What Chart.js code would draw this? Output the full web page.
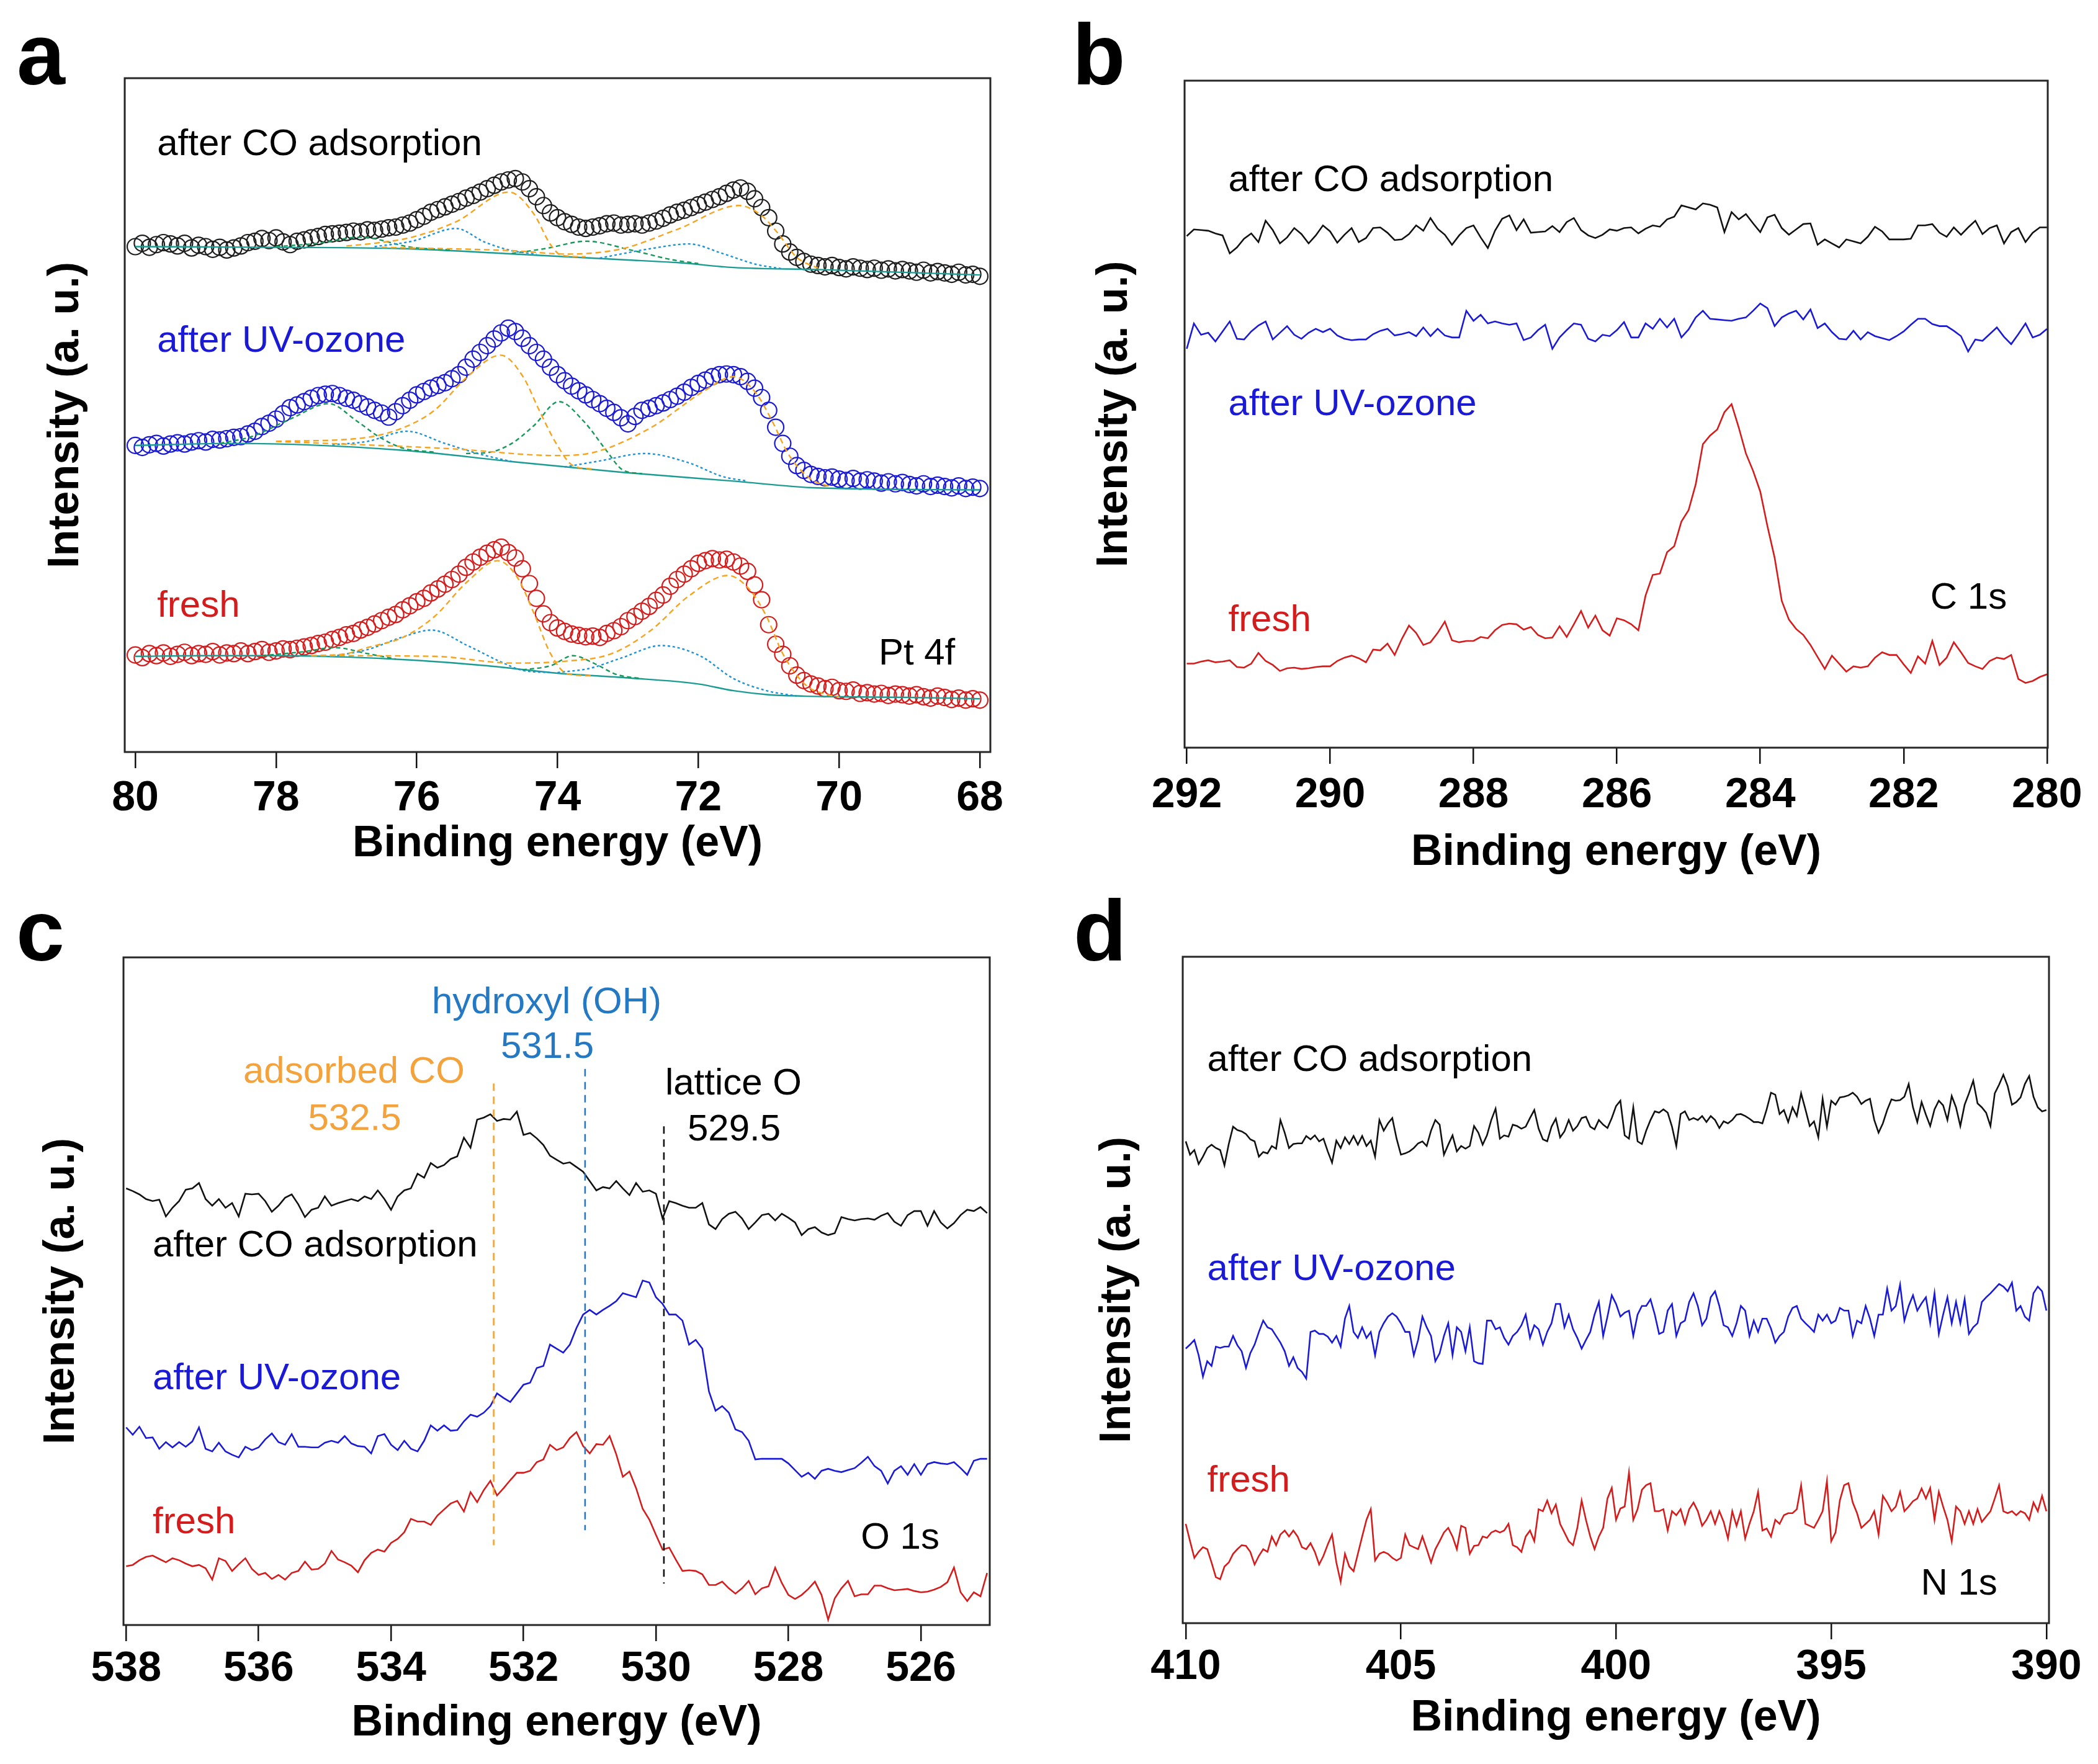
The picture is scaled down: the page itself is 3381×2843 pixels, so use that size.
<!DOCTYPE html>
<html>
<head>
<meta charset="utf-8">
<title>XPS spectra</title>
<script src="https://cdn.jsdelivr.net/npm/chart.js@4.4.0/dist/chart.umd.min.js"></script>
<style>
  body { margin: 0; background: #fff; }
  #wrap { position: relative; width: 3381px; height: 2843px; background: #fff; overflow: hidden; }
  canvas { position: absolute; }
  .tag { position: absolute; font: bold 140px "Liberation Sans", Arial, sans-serif; line-height: 1; color: #000; }
</style>
</head>
<body>
<div id="wrap">
  <canvas id="pa"></canvas>
  <canvas id="pb"></canvas>
  <canvas id="pc"></canvas>
  <canvas id="pd"></canvas>
  <div class="tag" style="left:27px;top:18px">a</div>
  <div class="tag" style="left:1728px;top:18px">b</div>
  <div class="tag" style="left:26px;top:1430px">c</div>
  <div class="tag" style="left:1730px;top:1430px">d</div>
</div>
<script>
// ---- panel a : Pt 4f (open circles + fitted components) ----
const ptEnergy = [
  80,79.9,79.8,79.7,79.6,79.5,79.4,79.3,79.2,79.1,
  79,78.9,78.8,78.7,78.6,78.5,78.4,78.3,78.2,78.1,
  78,77.9,77.8,77.7,77.6,77.5,77.4,77.3,77.2,77.1,
  77,76.9,76.8,76.7,76.6,76.5,76.4,76.3,76.2,76.1,
  76,75.9,75.8,75.7,75.6,75.5,75.4,75.3,75.2,75.1,
  75,74.9,74.8,74.7,74.6,74.5,74.4,74.3,74.2,74.1,
  74,73.9,73.8,73.7,73.6,73.5,73.4,73.3,73.2,73.1,
  73,72.9,72.8,72.7,72.6,72.5,72.4,72.3,72.2,72.1,
  72,71.9,71.8,71.7,71.6,71.5,71.4,71.3,71.2,71.1,
  71,70.9,70.8,70.7,70.6,70.5,70.4,70.3,70.2,70.1,
  70,69.9,69.8,69.7,69.6,69.5,69.4,69.3,69.2,69.1,
  69,68.9,68.8,68.7,68.6,68.5,68.4,68.3,68.2,68.1,
  68
];
const ptCO = [
  75.0,75.5,74.9,75.3,75.6,75.4,75.1,75.5,74.8,75.2,
  75.0,74.6,74.9,74.5,74.8,75.1,75.6,75.8,76.2,75.9,
  76.3,75.7,75.3,75.8,76.0,76.3,76.5,76.8,76.9,77.0,
  77.1,77.3,77.2,77.5,77.4,77.6,77.8,77.9,78.2,78.5,
  79.0,79.5,80.1,80.5,80.9,81.3,81.7,82.2,82.6,83.1,
  83.6,84.1,84.6,84.9,85.1,84.6,83.6,82.4,81.1,80.0,
  79.3,78.7,78.3,77.9,77.7,77.9,78.1,78.4,78.5,78.2,
  78.3,78.4,78.2,78.5,78.8,79.2,79.7,80.1,80.4,80.8,
  81.2,81.6,82.0,82.4,82.9,83.4,83.7,83.2,82.1,80.8,
  79.3,77.3,75.4,74.2,73.4,72.8,72.4,72.2,72.0,72.2,
  71.9,71.7,72.0,71.8,71.6,71.8,71.5,71.7,71.4,71.6,
  71.4,71.2,71.5,71.1,71.3,71.1,70.9,71.2,70.8,70.9,
  70.6
];
const ptUV = [
  45.5,45.2,45.6,45.8,45.4,45.7,45.9,45.7,46.0,46.2,
  46.0,46.4,46.3,46.5,46.7,46.8,47.2,47.6,48.3,48.8,
  49.4,50.2,51.1,51.5,52.0,52.5,52.9,53.1,53.2,52.9,
  52.5,52.2,51.7,51.2,50.7,50.3,49.7,50.5,51.4,52.2,
  53.0,53.5,54.0,54.4,54.8,55.4,56.0,57.1,58.3,59.3,
  60.3,61.3,62.2,62.9,62.4,61.4,60.3,59.3,58.3,57.1,
  56.0,55.1,54.3,53.6,53.0,52.3,51.7,51.0,50.4,49.6,
  48.7,49.8,50.7,51.0,51.4,51.8,52.3,52.8,53.4,54.1,
  54.7,55.2,55.7,56.0,56.1,56.0,55.7,55.0,54.0,52.6,
  50.7,48.2,45.8,43.9,42.5,41.8,41.2,40.9,40.7,40.8,
  40.5,40.3,40.6,40.2,40.4,40.2,39.9,40.1,39.8,40.0,
  39.7,39.5,39.8,39.4,39.6,39.4,39.2,39.5,39.1,39.3,
  39.1
];
const ptFresh = [
  14.4,14.0,14.6,14.3,14.7,14.2,14.5,14.8,14.3,14.6,
  14.5,14.9,14.4,14.7,14.6,15.0,14.6,14.9,15.2,14.8,
  15.0,15.3,15.2,15.4,15.6,15.8,16.1,16.3,16.7,17.0,
  17.4,17.6,18.1,18.5,19.0,19.5,20.0,20.4,21.1,21.7,
  22.3,22.8,23.6,24.2,24.9,25.6,26.4,27.4,28.2,28.9,
  29.5,30.0,30.4,29.6,28.8,27.2,25.0,22.8,20.5,19.2,
  18.4,17.9,17.5,17.3,17.1,17.2,17.0,17.6,18.0,18.6,
  19.5,20.1,20.9,21.6,22.5,23.3,24.6,25.6,26.4,27.2,
  28.0,28.4,28.7,28.5,28.6,28.2,27.6,26.8,24.8,22.6,
  18.9,16.0,14.5,12.8,11.4,10.6,10.1,9.8,9.4,9.6,
  9.1,9.0,9.2,8.7,8.8,8.6,8.7,8.4,8.6,8.5,
  8.3,8.5,8.2,8.0,8.3,8.1,7.8,8.0,7.7,7.9,
  7.7
];
// fitted components, [energy, intensity]
const coBase = [[80,75.0],[78,74.9],[76.2,74.7],[74.6,73.9],[73.05,73.05],[72.26,72.6],[71.5,71.9],[70.3,71.6],[68,70.8]];
const coOr1 = [[77.0,75.1],[76.6,75.5],[76.07,76.4],[75.44,78.7],[74.69,83.1],[74.34,79.9],[74.1,75.3],[73.94,73.7],[73.6,73.5]];
const coOr2 = [[76.5,74.9],[74.65,74.4],[73.86,73.9],[73.08,74.7],[72.29,77.6],[71.42,81.1],[71.1,79.6],[70.87,77.0],[70.6,73.4],[70.3,71.8]];
const coAz1 = [[76.6,75.0],[76.07,75.8],[75.44,77.7],[75.04,75.7],[74.65,74.4],[74.3,73.9]];
const coAz2 = [[73.4,73.3],[72.68,74.7],[72.13,75.4],[71.66,74.0],[71.19,72.4],[70.8,71.7]];
const coGr1 = [[74.65,74.0],[74.18,74.7],[73.59,75.8],[72.92,74.4],[72.37,73.05],[72.0,72.5]];
const coGr2 = [[78.0,75.0],[77.4,75.5],[76.8,76.4],[76.07,74.9],[75.5,74.5]];

const uvBase = [[80,45.5],[78.58,45.8],[76.22,44.8],[74.65,43.1],[73.08,41.5],[71.5,40.2],[70.32,39.2],[68,38.9]];
const uvOr1 = [[78.0,46.1],[76.77,46.6],[76.2,48.1],[75.75,50.7],[75.28,55.7],[74.81,58.9],[74.49,55.7],[74.26,50.7],[74.02,45.8],[73.78,42.5],[73.5,42.0]];
const uvOr2 = [[78.0,46.1],[75.5,45.0],[74.02,44.0],[73.47,44.5],[72.68,48.1],[71.9,53.7],[71.5,55.7],[71.19,53.4],[70.95,49.1],[70.72,44.2],[70.4,40.5],[70.1,39.3]];
const uvAz1 = [[77.2,45.6],[76.7,46.1],[76.14,47.6],[75.6,45.8],[75.1,44.2],[74.65,43.1]];
const uvAz2 = [[73.9,42.3],[73.4,43.2],[72.76,44.3],[72.13,42.9],[71.66,40.9],[71.3,40.2]];
const uvGr1 = [[75.3,44.3],[74.96,44.5],[74.65,45.8],[74.34,48.4],[73.98,52.0],[73.63,49.1],[73.31,44.8],[73.08,41.9],[72.8,41.3]];
const uvGr2 = [[78.8,45.8],[78.35,46.8],[77.8,49.4],[77.25,51.7],[76.85,49.1],[76.54,46.8],[76.2,45.1],[75.75,44.5]];

const fBase = [[80,14.2],[79,14.3],[78,14.3],[77,14.1],[76,13.6],[75,12.8],[74,11.7],[73,11.0],[72,10.1],[71.5,9.1],[71,8.5],[70.5,8.3],[70,8.2],[69,8.1],[68,7.9]];
const fOr1 = [[77.5,14.3],[77,14.6],[76.7,15.5],[76.2,17.0],[75.75,20.1],[75.28,25.3],[74.85,28.4],[74.57,25.9],[74.34,20.7],[74.1,14.6],[73.86,11.6],[73.5,11.3]];
const fOr2 = [[77.5,14.3],[75.75,14.2],[74.65,13.2],[73.86,13.5],[73.23,14.6],[72.68,18.0],[72.13,23.2],[71.58,26.2],[71.27,24.1],[71.03,20.1],[70.8,14.6],[70.48,10.0],[70.2,8.6],[70,8.2]];
const fAz1 = [[77.2,14.2],[76.7,15.2],[76.22,17.0],[75.79,18.1],[75.28,15.8],[74.81,13.4],[74.49,12.1],[74.1,11.8]];
const fAz2 = [[74.0,11.8],[73.55,12.4],[73.08,14.0],[72.53,15.8],[71.98,14.3],[71.5,10.9],[71.03,9.1],[70.6,8.3]];
const fGr1 = [[74.5,12.2],[74.1,12.8],[73.78,14.3],[73.47,13.1],[73.16,11.5],[72.8,10.9]];
const fGr2 = [[78.2,14.3],[77.6,14.9],[77.17,15.5],[76.7,14.6],[76.3,13.8]];

// ---- panel b : C 1s ----
const bEnergy = [
  292,291.9,291.8,291.7,291.6,291.5,291.4,291.3,291.2,291.1,
  291,290.9,290.8,290.7,290.6,290.5,290.4,290.3,290.2,290.1,
  290,289.9,289.8,289.7,289.6,289.5,289.4,289.3,289.2,289.1,
  289,288.9,288.8,288.7,288.6,288.5,288.4,288.3,288.2,288.1,
  288,287.9,287.8,287.7,287.6,287.5,287.4,287.3,287.2,287.1,
  287,286.9,286.8,286.7,286.6,286.5,286.4,286.3,286.2,286.1,
  286,285.9,285.8,285.7,285.6,285.5,285.4,285.3,285.2,285.1,
  285,284.9,284.8,284.7,284.6,284.5,284.4,284.3,284.2,284.1,
  284,283.9,283.8,283.7,283.6,283.5,283.4,283.3,283.2,283.1,
  283,282.9,282.8,282.7,282.6,282.5,282.4,282.3,282.2,282.1,
  282,281.9,281.8,281.7,281.6,281.5,281.4,281.3,281.2,281.1,
  281,280.9,280.8,280.7,280.6,280.5,280.4,280.3,280.2,280.1,
  280
];
const bCO = [
  76.7,77.7,77.6,77.5,77.1,76.8,74.1,75.0,76.3,77.1,
  75.8,79.0,77.6,75.6,76.5,77.9,77.0,75.6,76.8,78.3,
  77.4,75.7,76.9,77.9,75.8,76.4,77.9,78.0,77.2,76.1,
  76.2,77.0,78.3,77.5,79.4,77.8,76.9,75.4,76.8,77.9,
  78.3,76.5,74.9,77.5,79.3,79.8,77.6,79.2,77.2,77.3,
  77.4,78.2,77.3,78.8,79.4,77.6,76.8,76.4,76.9,77.7,
  77.5,77.9,78.0,77.1,77.8,78.3,78.1,79.2,79.6,81.3,
  81.0,80.7,81.6,81.4,81.0,77.3,80.3,79.2,80.0,78.6,
  77.3,79.5,79.9,77.9,76.9,77.7,78.5,78.6,75.4,76.2,
  75.6,75.0,76.2,75.9,75.6,76.6,78.1,77.4,76.2,76.2,
  76.2,76.3,78.3,78.3,78.5,77.2,76.6,78.0,76.9,78.0,
  79.0,77.0,77.9,78.3,75.6,77.3,77.9,75.8,77.2,78.0,
  78.0
];
const bUV = [
  59.8,63.6,61.9,62.2,60.9,62.4,63.9,61.3,61.2,62.4,
  63.3,63.9,61.2,62.2,63.2,61.9,61.3,62.2,62.8,62.3,
  62.8,61.8,61.3,61.1,61.2,61.2,62.0,62.5,62.8,61.8,
  62.0,62.3,61.7,63.0,61.7,62.8,61.8,61.5,61.5,65.5,
  64.0,64.9,63.6,63.9,63.6,63.4,63.6,61.1,61.5,62.6,
  63.4,59.8,61.5,62.6,63.6,63.4,61.3,60.9,61.9,61.7,
  62.6,63.8,61.5,61.5,63.6,62.8,64.3,63.0,64.3,61.5,
  62.7,64.5,65.5,64.3,64.2,64.1,64.0,64.3,64.5,65.5,
  66.6,65.9,63.2,64.5,65.1,65.5,64.2,65.7,62.9,63.6,
  62.3,61.3,61.2,62.5,61.2,62.3,61.7,61.4,61.1,61.7,
  62.4,63.4,64.3,64.3,63.5,63.2,63.2,62.5,61.7,59.4,
  61.2,61.0,62.0,63.0,61.6,60.5,62.0,63.6,61.5,61.9,
  62.8
];
const bFresh = [
  12.6,12.6,12.9,13.1,12.8,12.9,13.1,12.1,12.0,12.6,
  14.2,13.0,12.4,11.5,11.9,12.0,11.8,11.9,12.1,12.2,
  12.2,13.0,13.5,13.8,13.4,12.8,14.7,14.6,15.6,13.9,
  16.3,18.3,17.2,15.4,15.8,17.2,18.9,16.1,15.8,16.0,
  16.0,16.6,16.4,17.6,18.4,18.6,18.5,17.7,18.1,16.9,
  16.4,16.5,18.2,16.6,18.5,20.5,18.0,19.8,17.6,16.8,
  19.4,19.1,18.5,17.6,22.8,25.9,26.1,29.3,30.2,33.9,
  35.6,39.5,45.5,46.8,47.7,50.3,51.5,48.0,44.1,41.5,
  38.4,33.2,28.5,22.0,19.2,17.8,16.9,15.4,13.6,11.8,
  13.8,12.6,11.4,12.2,12.0,12.2,13.5,14.3,13.9,13.9,
  12.5,11.2,13.7,12.6,16.0,12.4,13.5,15.8,14.3,12.7,
  12.2,11.8,13.0,13.5,13.3,13.9,10.3,9.7,10.0,10.6,
  11.0
];

// ---- panel c : O 1s ----
const cEnergy = [
  538,537.9,537.8,537.7,537.6,537.5,537.4,537.3,537.2,537.1,
  537,536.9,536.8,536.7,536.6,536.5,536.4,536.3,536.2,536.1,
  536,535.9,535.8,535.7,535.6,535.5,535.4,535.3,535.2,535.1,
  535,534.9,534.8,534.7,534.6,534.5,534.4,534.3,534.2,534.1,
  534,533.9,533.8,533.7,533.6,533.5,533.4,533.3,533.2,533.1,
  533,532.9,532.8,532.7,532.6,532.5,532.4,532.3,532.2,532.1,
  532,531.9,531.8,531.7,531.6,531.5,531.4,531.3,531.2,531.1,
  531,530.9,530.8,530.7,530.6,530.5,530.4,530.3,530.2,530.1,
  530,529.9,529.8,529.7,529.6,529.5,529.4,529.3,529.2,529.1,
  529,528.9,528.8,528.7,528.6,528.5,528.4,528.3,528.2,528.1,
  528,527.9,527.8,527.7,527.6,527.5,527.4,527.3,527.2,527.1,
  527,526.9,526.8,526.7,526.6,526.5,526.4,526.3,526.2,526.1,
  526,525.9,525.8,525.7,525.6,525.5,525.4,525.3,525.2,525.1,
  525
];
const cCO = [
  65.4,65.0,64.5,63.8,63.5,63.7,61.2,62.5,63.5,65.2,
  65.4,66.2,63.8,62.8,63.8,62.5,63.2,61.2,64.6,64.5,
  64.6,63.5,61.9,62.8,64.0,64.5,63.0,61.1,62.2,62.5,
  64.2,62.8,63.2,63.5,63.8,63.5,64.2,63.8,65.1,63.8,
  62.2,64.2,65.1,65.4,67.6,67.0,69.2,68.5,68.9,69.8,
  70.2,73.0,71.5,75.7,76.0,76.5,75.5,75.8,75.7,76.9,
  73.4,73.7,72.9,71.9,70.3,69.7,69.1,69.3,68.6,67.9,
  66.5,65.1,65.6,65.4,66.5,65.4,64.4,66.2,64.9,65.1,
  64.6,60.9,63.5,63.2,62.8,62.5,62.5,63.2,60.0,59.3,
  60.8,61.6,61.9,60.9,59.3,60.3,61.4,61.6,60.6,61.6,
  61.0,60.3,58.4,59.3,59.6,58.8,58.4,58.7,61.1,60.8,
  60.6,60.8,60.9,60.7,61.3,61.7,60.4,59.8,61.4,62.0,
  62.0,59.8,62.0,60.3,59.4,60.2,61.4,62.2,62.0,62.6,
  61.7
];
const cUV = [
  29.6,28.5,29.7,28.0,28.1,26.4,27.4,26.6,27.4,26.7,
  27.5,29.6,26.4,26.0,27.3,26.0,25.5,25.1,26.7,26.2,
  26.6,27.8,28.7,27.4,27.0,28.6,26.7,26.7,26.6,26.6,
  27.3,27.6,27.3,28.3,27.2,26.8,26.7,25.7,28.3,28.6,
  27.0,26.2,27.6,26.4,26.0,27.6,29.9,29.1,29.9,29.1,
  29.2,30.5,31.5,31.2,31.8,32.8,34.7,34.0,33.4,34.7,
  36.0,36.3,38.5,38.8,42.0,41.4,40.8,42.0,44.5,46.5,
  47.2,46.5,47.2,47.8,48.5,49.7,49.4,49.1,51.6,51.3,
  49.1,48.1,46.5,46.5,45.6,42.0,42.7,41.4,35.0,32.1,
  32.8,31.8,29.3,28.9,27.6,24.8,24.9,24.9,24.9,24.9,
  24.2,23.2,22.2,22.8,21.9,23.1,23.4,23.1,22.9,23.2,
  23.5,24.3,25.2,23.8,23.1,21.2,23.1,23.8,22.5,24.1,
  22.5,24.1,24.4,24.2,24.1,24.4,23.5,22.5,24.6,24.9,
  24.9
];
const cFresh = [
  8.8,9.0,9.7,10.2,10.4,9.9,9.4,10.0,9.7,9.2,
  8.8,9.0,8.5,6.8,10.0,9.6,8.1,9.1,10.0,8.4,
  7.5,7.8,6.9,7.5,6.8,7.8,8.1,9.5,8.3,8.4,
  9.2,11.1,9.8,9.4,8.9,7.9,9.7,10.8,11.3,11.0,
  12.3,12.9,13.9,15.9,15.5,15.5,15.0,16.4,17.3,18.2,
  18.6,17.0,19.9,18.4,20.2,21.6,19.4,20.5,21.7,22.8,
  22.8,23.1,24.4,24.8,27.0,26.2,26.6,28.0,28.9,26.8,
  25.7,27.1,27.0,28.3,25.6,22.2,23.0,20.5,17.4,15.8,
  13.5,11.3,11.6,9.8,8.1,8.2,8.1,7.6,6.0,6.0,
  6.5,5.5,4.7,5.5,6.6,4.6,5.5,5.8,8.6,6.3,
  4.5,3.9,4.5,5.4,6.5,4.5,0.8,4.0,5.5,6.6,
  4.3,4.6,4.6,5.9,5.9,5.5,5.2,5.3,5.4,5.1,
  4.9,5.0,5.3,5.7,6.4,8.6,4.9,3.6,4.9,4.3,
  7.8
];
// dashed marker lines: energy, top, bottom
const cMarkE = [532.45, 531.07, 529.88];
const cMarkTop = [81.1, 83.3, 74.7];
const cMarkBottom = [11.95, 14.2, 6.2];

// ---- panel d : N 1s ----
const dEnergy = [
  410,409.9,409.8,409.7,409.6,409.5,409.4,409.3,409.2,409.1,
  409,408.9,408.8,408.7,408.6,408.5,408.4,408.3,408.2,408.1,
  408,407.9,407.8,407.7,407.6,407.5,407.4,407.3,407.2,407.1,
  407,406.9,406.8,406.7,406.6,406.5,406.4,406.3,406.2,406.1,
  406,405.9,405.8,405.7,405.6,405.5,405.4,405.3,405.2,405.1,
  405,404.9,404.8,404.7,404.6,404.5,404.4,404.3,404.2,404.1,
  404,403.9,403.8,403.7,403.6,403.5,403.4,403.3,403.2,403.1,
  403,402.9,402.8,402.7,402.6,402.5,402.4,402.3,402.2,402.1,
  402,401.9,401.8,401.7,401.6,401.5,401.4,401.3,401.2,401.1,
  401,400.9,400.8,400.7,400.6,400.5,400.4,400.3,400.2,400.1,
  400,399.9,399.8,399.7,399.6,399.5,399.4,399.3,399.2,399.1,
  399,398.9,398.8,398.7,398.6,398.5,398.4,398.3,398.2,398.1,
  398,397.9,397.8,397.7,397.6,397.5,397.4,397.3,397.2,397.1,
  397,396.9,396.8,396.7,396.6,396.5,396.4,396.3,396.2,396.1,
  396,395.9,395.8,395.7,395.6,395.5,395.4,395.3,395.2,395.1,
  395,394.9,394.8,394.7,394.6,394.5,394.4,394.3,394.2,394.1,
  394,393.9,393.8,393.7,393.6,393.5,393.4,393.3,393.2,393.1,
  393,392.9,392.8,392.7,392.6,392.5,392.4,392.3,392.2,392.1,
  392,391.9,391.8,391.7,391.6,391.5,391.4,391.3,391.2,391.1,
  391,390.9,390.8,390.7,390.6,390.5,390.4,390.3,390.2,390.1,
  390
];
const dCO = [
  72.3,70.3,71.0,68.9,70.0,71.3,71.8,71.3,71.0,68.7,
  71.9,74.5,74.0,73.8,73.4,72.6,72.3,70.0,70.7,70.5,
  71.6,71.2,75.5,73.6,71.3,71.9,72.0,72.0,73.1,72.6,
  73.2,72.3,72.7,70.8,69.1,72.4,71.3,72.9,71.9,73.1,
  71.8,73.1,71.6,72.4,70.0,75.5,73.9,75.0,75.8,72.7,
  70.3,70.5,70.8,71.3,72.0,72.3,71.6,73.9,75.5,74.8,
  70.3,71.8,73.2,70.8,71.6,71.2,71.6,74.6,73.6,71.8,
  73.2,75.5,77.2,72.7,73.2,73.0,74.8,74.6,74.2,74.5,
  75.8,77.0,74.2,72.6,72.3,74.5,75.7,72.9,73.8,75.5,
  73.9,74.6,75.8,76.0,74.5,74.1,75.5,74.8,74.3,75.8,
  77.6,78.4,73.2,72.7,77.4,72.3,71.9,73.9,75.5,76.8,
  76.6,77.1,76.6,74.5,71.6,76.4,76.8,75.5,75.8,75.5,
  76.1,75.2,76.1,75.5,74.3,75.3,75.0,75.5,76.3,76.4,
  76.1,75.7,75.2,75.2,75.0,77.1,79.6,79.3,76.4,77.0,
  75.2,77.4,76.1,79.5,77.1,74.6,75.3,72.9,78.7,74.5,
  78.4,77.8,78.9,79.0,79.2,79.6,79.0,77.9,78.4,78.7,
  75.5,73.6,75.0,77.0,78.6,78.4,78.5,79.0,80.9,77.4,
  75.2,78.2,76.3,74.6,77.1,78.4,77.7,75.5,79.1,77.4,
  74.6,77.8,79.5,81.4,78.0,77.4,76.6,74.6,79.5,80.8,
  82.3,80.6,77.8,78.2,78.9,80.9,82.1,79.0,77.4,76.8,
  77.0
];
const dUV = [
  41.2,41.8,42.5,40.2,37.0,39.3,38.6,41.5,41.3,41.5,
  41.5,43.1,41.7,40.8,38.3,40.5,41.8,43.7,45.4,44.4,
  44.1,43.1,42.1,40.8,38.6,39.9,38.3,37.7,36.7,43.7,
  43.9,43.4,43.4,43.0,42.1,43.1,41.5,45.7,47.6,43.7,
  42.8,44.4,42.8,43.7,40.2,43.7,45.0,46.0,46.5,46.0,
  45.0,43.7,43.7,40.2,42.5,46.0,44.4,43.1,39.3,40.5,
  43.1,45.0,40.2,44.4,43.7,40.8,44.4,39.3,39.0,38.9,
  45.4,45.4,44.1,44.4,42.8,41.8,43.1,43.7,44.7,46.3,
  42.8,44.7,44.1,41.8,43.7,45.0,47.9,47.9,44.4,46.3,
  44.1,42.8,41.2,42.5,43.7,46.3,48.2,43.1,46.0,49.2,
  47.9,46.0,46.6,46.9,43.1,46.3,47.6,47.6,48.6,46.3,
  43.4,43.7,46.9,47.9,43.1,45.0,45.4,48.2,49.5,47.6,
  44.7,45.7,48.9,49.8,47.6,44.7,44.4,43.1,45.0,47.6,
  46.9,43.1,45.4,43.7,45.7,45.7,44.2,42.1,43.1,43.7,
  46.0,47.3,47.6,45.7,45.0,44.4,43.7,46.3,45.4,46.3,
  45.0,45.4,47.3,46.9,46.9,43.1,45.4,45.0,47.6,45.7,
  43.1,46.3,46.3,50.2,46.9,47.6,50.8,45.4,47.6,49.2,
  46.9,48.0,48.9,45.0,49.5,43.4,46.3,48.9,45.0,48.2,
  45.0,48.6,43.4,44.4,45.0,48.2,48.9,49.5,50.2,50.9,
  50.5,49.8,51.1,46.9,47.6,46.0,45.4,49.5,50.5,49.8,
  46.9
];
const dFresh = [
  14.9,12.3,9.8,10.7,11.4,11.1,9.1,6.9,6.6,8.5,
  9.1,10.4,11.1,11.7,11.6,10.7,8.8,10.1,11.1,10.7,
  13.0,11.7,13.3,13.9,13.0,13.9,13.0,11.4,11.1,12.0,
  10.7,8.8,10.1,11.8,13.3,9.1,6.2,10.4,8.5,7.8,
  10.4,13.0,15.5,17.1,9.4,10.4,10.7,10.4,9.8,9.4,
  9.8,13.3,11.7,11.4,11.1,13.0,11.1,9.1,11.1,12.3,
  13.6,14.3,13.0,11.1,14.6,14.3,10.4,11.6,11.7,13.0,
  12.8,13.6,13.9,13.6,13.9,14.9,11.7,11.4,10.7,13.0,
  13.9,12.3,17.1,16.8,18.4,16.5,17.8,14.9,13.6,12.3,
  11.7,14.3,18.4,15.5,13.0,11.1,13.0,14.3,18.7,20.3,
  15.5,17.2,17.5,22.6,15.5,17.1,20.0,20.7,21.0,16.8,
  16.8,17.1,13.9,16.8,16.2,17.1,14.9,17.1,18.1,16.8,
  14.6,15.5,16.8,14.9,16.8,15.2,12.7,16.8,14.6,16.8,
  12.7,14.9,16.8,19.7,13.9,14.2,13.0,15.5,14.9,16.2,
  16.5,16.5,17.1,20.7,14.9,14.6,14.3,15.5,16.8,21.3,
  12.3,13.6,18.4,20.7,21.0,18.1,16.5,14.3,14.9,15.5,
  16.8,13.3,19.1,18.1,16.8,17.5,19.7,16.8,17.5,18.3,
  18.7,20.2,18.7,20.3,15.5,19.7,17.5,15.5,12.3,17.5,
  16.8,14.9,16.8,14.9,17.1,15.2,16.0,16.8,18.7,20.7,
  16.8,16.5,16.8,16.2,16.8,16.5,15.5,18.1,16.8,19.1,
  16.8
];

// tick labels
const aTicks = [80, 78, 76, 74, 72, 70, 68];
const bTicks = [292, 290, 288, 286, 284, 282, 280];
const cTicks = [538, 536, 534, 532, 530, 528, 526];
const dTicks = [410, 405, 400, 395, 390];

const FONT = '"Liberation Sans", Arial, sans-serif';
const BLACK = '#111111', BLUE = '#1a1ad6', RED = '#d41c1c';
const ORANGE = '#f6a41e', AZURE = '#1c93d4', GREEN = '#18985a', TEAL = '#1b9c92';
const ORANGE_TXT = '#f3a23c', AZURE_TXT = '#2479c2';

Chart.defaults.font.family = FONT;

function xy(xs, ys) { return xs.map((x, i) => ({ x: x, y: ys[i] })); }
function pairs(p) { return p.map(q => ({ x: q[0], y: q[1] })); }

function trace(xs, ys, color) {
  return { data: xy(xs, ys), borderColor: color, borderWidth: 2.6, pointRadius: 0, tension: 0, fill: false };
}
function circles(xs, ys, color) {
  return { data: xy(xs, ys), showLine: false, pointRadius: 13, pointBorderWidth: 2.2,
           pointBorderColor: color, borderColor: color, pointBackgroundColor: 'rgba(0,0,0,0)' };
}
function comp(p, color, dash, width) {
  return { data: pairs(p), borderColor: color, borderWidth: width || 2.4, borderDash: dash,
           pointRadius: 0, cubicInterpolationMode: 'monotone', fill: false };
}

// frame around the plot + in-plot texts
function frameNotes(notes) {
  return {
    id: 'frameNotes',
    afterDatasetsDraw(chart) {
      const ctx = chart.ctx, a = chart.chartArea, x = chart.scales.x, y = chart.scales.y;
      ctx.save();
      ctx.lineWidth = 3;
      ctx.strokeStyle = '#262626';
      ctx.strokeRect(a.left, a.top, a.right - a.left, a.bottom - a.top);
      ctx.font = '60px ' + FONT;
      ctx.textBaseline = 'alphabetic';
      notes.forEach(n => {
        ctx.fillStyle = n.color;
        ctx.textAlign = n.align || 'left';
        ctx.fillText(n.text, x.getPixelForValue(n.x), y.getPixelForValue(n.y));
      });
      ctx.restore();
    }
  };
}

// rect = canvas place, box = plot frame (l r t b), yt = y-title centre x, xt = x-title centre y
function panel(id, rect, box, range, ticks, tickPad, datasets, notes) {
  const cv = document.getElementById(id);
  cv.width = rect.w; cv.height = rect.h;
  cv.style.left = rect.l + 'px'; cv.style.top = rect.t + 'px';
  const xBottom = box.xt + 42;
  new Chart(cv, {
    type: 'line',
    data: { datasets: datasets },
    options: {
      responsive: false, animation: false, devicePixelRatio: 1,
      layout: { padding: { left: 0, top: box.t - rect.t, right: rect.l + rect.w - box.r, bottom: rect.t + rect.h - xBottom } },
      plugins: { legend: { display: false }, tooltip: { enabled: false } },
      scales: {
        x: {
          type: 'linear', reverse: true, min: range[0], max: range[1],
          afterBuildTicks: ax => { ax.ticks = ticks.map(v => ({ value: v })); },
          afterFit: ax => { ax.height = xBottom - box.b; },
          grid: { drawOnChartArea: false, drawTicks: true, tickLength: 26, color: '#111', lineWidth: 2.5 },
          border: { display: false },
          ticks: { padding: tickPad, color: '#000', maxRotation: 0, autoSkip: false,
                   font: { size: 68, weight: 'bold' } },
          title: { display: true, text: 'Binding energy (eV)', color: '#000', padding: 0,
                   font: { size: 70, weight: 'bold' } }
        },
        y: {
          min: 0, max: 100,
          afterFit: ax => { ax.width = box.l - rect.l; },
          ticks: { display: false }, grid: { display: false }, border: { display: false },
          title: { display: true, text: 'Intensity (a. u.)', color: '#000',
                   padding: { top: box.yt - rect.l - 42, bottom: 0 },
                   font: { size: 70, weight: 'bold' } }
        }
      }
    },
    plugins: [frameNotes(notes)]
  });
}

const dot = [4, 4], dash = [9, 6], gdash = [7, 5];

panel('pa', { l: 0, t: 0, w: 1700, h: 1440 },
  { l: 201, r: 1596, t: 126, b: 1212, yt: 107, xt: 1361 },
  [67.85, 80.15], aTicks, 8,
  [
    comp(coOr1, ORANGE, dash), comp(coOr2, ORANGE, dash), comp(coAz1, AZURE, dot), comp(coAz2, AZURE, dot),
    comp(coGr1, GREEN, gdash), comp(coGr2, GREEN, gdash), comp(coBase, TEAL, [], 2.4),
    comp(uvOr1, ORANGE, dash), comp(uvOr2, ORANGE, dash), comp(uvAz1, AZURE, dot), comp(uvAz2, AZURE, dot),
    comp(uvGr1, GREEN, gdash), comp(uvGr2, GREEN, gdash), comp(uvBase, TEAL, [], 2.4),
    comp(fOr1, ORANGE, dash), comp(fOr2, ORANGE, dash), comp(fAz1, AZURE, dot), comp(fAz2, AZURE, dot),
    comp(fGr1, GREEN, gdash), comp(fGr2, GREEN, gdash), comp(fBase, TEAL, [], 2.4),
    circles(ptEnergy, ptCO, '#1e1e1e'),
    circles(ptEnergy, ptUV, BLUE),
    circles(ptEnergy, ptFresh, RED)
  ],
  [
    { text: 'after CO adsorption', x: 79.69, y: 88.6, color: '#000' },
    { text: 'after UV-ozone', x: 79.69, y: 59.4, color: BLUE },
    { text: 'fresh', x: 79.69, y: 20.1, color: RED },
    { text: 'Pt 4f', x: 68.35, y: 13.0, color: '#000', align: 'right' }
  ]);

panel('pb', { l: 1700, t: 0, w: 1681, h: 1440 },
  { l: 1909, r: 3300, t: 130, b: 1205, yt: 1797, xt: 1375 },
  [279.99, 292.03], bTicks, 10,
  [ trace(bEnergy, bCO, BLACK), trace(bEnergy, bUV, BLUE), trace(bEnergy, bFresh, RED) ],
  [
    { text: 'after CO adsorption', x: 291.42, y: 83.4, color: '#000' },
    { text: 'after UV-ozone', x: 291.42, y: 49.9, color: BLUE },
    { text: 'fresh', x: 291.42, y: 17.5, color: RED },
    { text: 'C 1s', x: 280.56, y: 20.8, color: '#000', align: 'right' }
  ]);

const markColors = [ORANGE_TXT, AZURE_TXT, '#111'];
const markSets = cMarkE.map((e, i) => ({
  data: [{ x: e, y: cMarkTop[i] }, { x: e, y: cMarkBottom[i] }],
  borderColor: markColors[i], borderWidth: 2.6, borderDash: [12, 9], pointRadius: 0, tension: 0
}));

panel('pc', { l: 0, t: 1440, w: 1700, h: 1403 },
  { l: 199, r: 1595, t: 1543, b: 2619, yt: 100, xt: 2778 },
  [524.96, 538.04], cTicks, 4,
  markSets.concat([ trace(cEnergy, cCO, BLACK), trace(cEnergy, cUV, BLUE), trace(cEnergy, cFresh, RED) ]),
  [
    { text: 'hydroxyl (OH)', x: 531.65, y: 91.6, color: AZURE_TXT, align: 'center' },
    { text: '531.5', x: 531.64, y: 84.9, color: AZURE_TXT, align: 'center' },
    { text: 'adsorbed CO', x: 534.56, y: 81.2, color: ORANGE_TXT, align: 'center' },
    { text: '532.5', x: 534.55, y: 74.2, color: ORANGE_TXT, align: 'center' },
    { text: 'lattice O', x: 528.83, y: 79.5, color: '#000', align: 'center' },
    { text: '529.5', x: 528.82, y: 72.6, color: '#000', align: 'center' },
    { text: 'after CO adsorption', x: 537.6, y: 55.2, color: '#000' },
    { text: 'after UV-ozone', x: 537.6, y: 35.3, color: BLUE },
    { text: 'fresh', x: 537.6, y: 13.8, color: RED },
    { text: 'O 1s', x: 525.72, y: 11.4, color: '#000', align: 'right' }
  ]);

panel('pd', { l: 1700, t: 1440, w: 1681, h: 1403 },
  { l: 1906, r: 3302, t: 1542, b: 2616, yt: 1802, xt: 2770 },
  [389.94, 410.07], dTicks, 4,
  [ trace(dEnergy, dCO, BLACK), trace(dEnergy, dUV, BLUE), trace(dEnergy, dFresh, RED) ],
  [
    { text: 'after CO adsorption', x: 409.5, y: 82.9, color: '#000' },
    { text: 'after UV-ozone', x: 409.5, y: 51.5, color: BLUE },
    { text: 'fresh', x: 409.5, y: 19.7, color: RED },
    { text: 'N 1s', x: 391.14, y: 4.3, color: '#000', align: 'right' }
  ]);
</script>
</body>
</html>
